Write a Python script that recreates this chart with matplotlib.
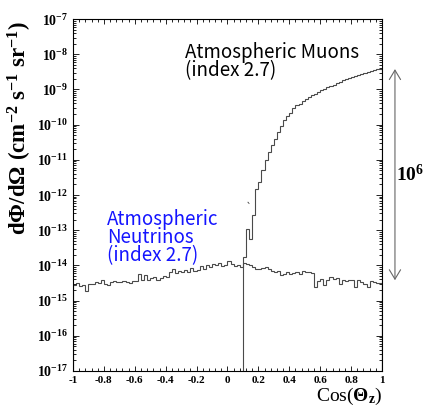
import numpy as np
import matplotlib
matplotlib.use("Agg")
import matplotlib.pyplot as plt
from matplotlib.ticker import FixedLocator, MultipleLocator, FuncFormatter, NullFormatter

plt.rcParams["font.family"] = "Liberation Serif"
plt.rcParams["font.weight"] = "bold"
plt.rcParams["mathtext.fontset"] = "custom"
plt.rcParams["mathtext.rm"] = "Liberation Serif:bold"
plt.rcParams["mathtext.bf"] = "Liberation Serif:bold"
plt.rcParams["mathtext.it"] = "Liberation Serif:bold:italic"
plt.rcParams["axes.unicode_minus"] = False

# 100 bins in cos(theta_z) from -1 to 1
edges = np.linspace(-1, 1, 101)

# log10 of the atmospheric neutrino flux, one value per bin
nu_log = [
    -14.56, -14.50, -14.58, -14.55, -14.74, -14.52, -14.53, -14.48, -14.50, -14.40,
    -14.52, -14.55, -14.47, -14.45, -14.48, -14.46, -14.44, -14.47, -14.50, -14.43,
    -14.45, -14.25, -14.40, -14.28, -14.42, -14.36, -14.33, -14.40, -14.35, -14.30,
    -14.33, -14.18, -14.10, -14.22, -14.16, -14.20, -14.14, -14.18, -14.08, -14.15,
    -14.12, -14.02, -14.10, -13.98, -14.05, -13.95, -13.99, -13.92, -14.02, -13.98,
    -13.88, -13.95, -14.02, -13.98, -14.05, -13.94, -13.96, -14.00, -14.05, -14.09,
    -14.10, -14.07, -14.04, -14.10, -14.15, -14.18, -14.15, -14.27, -14.24, -14.20,
    -14.25, -14.22, -14.20, -14.23, -14.17, -14.20, -14.18, -14.22, -14.62, -14.45,
    -14.38, -14.55, -14.40, -14.33, -14.38, -14.36, -14.52, -14.40, -14.45, -14.40,
    -14.42, -14.62, -14.40, -14.48, -14.52, -14.60, -14.45, -14.48, -14.50, -14.49,
]

# log10 of the atmospheric muon flux, bins from cos = 0.1 up to 1
mu_first_bin = 55
mu_log = [
    -13.77, -12.97, -13.25, -12.57, -11.83, -11.64, -11.29, -11.00, -10.77, -10.58,
    -10.40, -10.20, -10.05, -9.88, -9.76, -9.66, -9.53, -9.45, -9.40, -9.33,
    -9.26, -9.22, -9.16, -9.12, -9.06, -9.02, -8.98, -8.94, -8.91, -8.86,
    -8.82, -8.79, -8.74, -8.70, -8.68, -8.64, -8.62, -8.59, -8.56, -8.54,
    -8.51, -8.48, -8.44, -8.42, -8.42,
]
ratio_decades = 6

log_min, log_max = -17, -7
y_min, y_max = 10.0 ** log_min, 10.0 ** log_max

nu = 10 ** np.array(nu_log)
mu = 10 ** np.array(mu_log)
mu_edges = edges[mu_first_bin:]

fig = plt.figure(figsize=(4.36, 4.13), dpi=100)
ax = fig.add_axes([0.1674, 0.1017, 0.7087, 0.852])

line_col = "#4a4a4a"
ax.stairs(nu, edges, color=line_col, lw=0.8)
ax.stairs(mu, mu_edges, baseline=y_min, color=line_col, lw=0.8)

ax.set_yscale("log")
ax.set_xlim(-1, 1)
ax.set_ylim(y_min, y_max)

# decade ticks plus 2..9 minor ticks, only inside the axis range
decades = np.arange(log_min, log_max + 1)
ax.yaxis.set_major_locator(FixedLocator(10.0 ** decades))
ax.yaxis.set_minor_locator(FixedLocator(
    [m * 10.0 ** d for d in decades[:-1] for m in range(2, 10)]))
ax.yaxis.set_minor_formatter(NullFormatter())
ax.yaxis.set_major_formatter(FuncFormatter(lambda v, p: r"$10^{%d}$" % round(np.log10(v))))

ax.xaxis.set_major_locator(MultipleLocator(0.2))
ax.xaxis.set_minor_locator(MultipleLocator(0.04))
ax.xaxis.set_major_formatter(FuncFormatter(lambda v, p: "0" if abs(v) < 1e-9 else "%g" % round(v, 2)))

ax.tick_params(which="both", direction="in", top=True, right=True, width=0.6)
ax.tick_params(axis="y", which="major", length=4.5, labelsize=10, pad=3.5)
ax.tick_params(axis="y", which="minor", length=2.2)
ax.tick_params(axis="x", which="major", length=3.5, labelsize=8, pad=3.5)
ax.tick_params(axis="x", which="minor", length=2.0)
for s in ax.spines.values():
    s.set_linewidth(0.8)

ax.set_xlabel(r"Cos($\Theta_{\mathrm{z}}$)", fontsize=14, loc="right")
ax.xaxis.set_label_coords(1.0, -0.042)
fig.text(20 / 436, 1 - 21 / 413,
         r"$\mathrm{d\Phi/d\Omega\ (cm^{-2}\ s^{-1}\ sr^{-1})}$",
         rotation=90, ha="center", va="top", fontsize=16.5)

# multi-line labels are placed by the baseline of their last line
sans = "Noto Sans CJK JP"
ax.text(-0.275, 10 ** -8.62, "Atmospheric Muons\n(index 2.7)", family=sans,
        weight="normal", fontsize=13.5, color="black", va="baseline",
        linespacing=0.82)

blue = "#1414ff"
ax.text(-0.782, 10 ** -13.88, "Atmospheric\nNeutrinos\n(index 2.7)", family=sans,
        weight="normal", fontsize=13.5, color=blue, va="baseline",
        linespacing=0.82)
ax.text(0.12, 10 ** -12.45, "`", family=sans, weight="normal", fontsize=7, color="#333333")

# arrow spanning the muon / neutrino ratio at the horizon
top = mu[-1]
bottom = mu[-1] / 10 ** ratio_decades
ax.annotate("", xy=(1.042, bottom), xytext=(1.042, top),
            xycoords=("axes fraction", "data"),
            arrowprops=dict(arrowstyle="<->,head_length=0.45,head_width=0.27",
                            color="#666666", lw=0.8, mutation_scale=15,
                            shrinkA=0, shrinkB=0),
            annotation_clip=False)
ax.text(1.09, np.sqrt(top * bottom), r"$10^{%d}$" % ratio_decades, fontsize=14,
        ha="center", va="center", transform=ax.get_yaxis_transform())

fig.savefig("out.png", dpi=100)
